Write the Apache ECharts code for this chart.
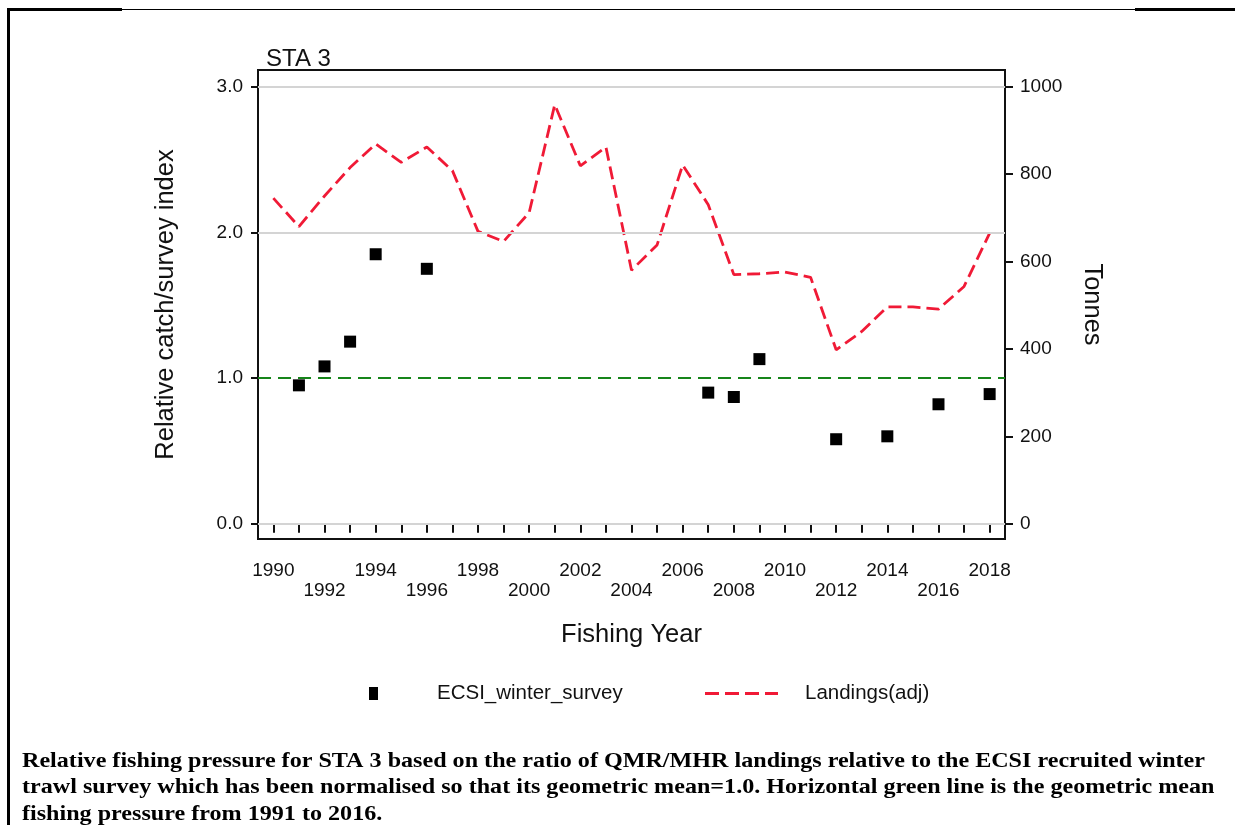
<!DOCTYPE html>
<html>
<head>
<meta charset="utf-8">
<script src="https://cdn.jsdelivr.net/npm/echarts@6/dist/echarts.min.js"></script>
<style>
  html, body { margin: 0; padding: 0; background: #fff; }
  #main { width: 1235px; height: 825px; }
</style>
</head>
<body>
<div id="main"></div>
<script>
// survey index points (left axis)
const surveyYears = [1991, 1992, 1993, 1994, 1996, 2007, 2008, 2009, 2012, 2014, 2016, 2018];
const surveyIndex = [0.95, 1.08, 1.25, 1.85, 1.75, 0.90, 0.87, 1.13, 0.58, 0.60, 0.82, 0.89];

// landings in tonnes (right axis)
const landingYears = [1990, 1991, 1992, 1993, 1994, 1995, 1996, 1997, 1998, 1999,
  2000, 2001, 2002, 2003, 2004, 2005, 2006, 2007, 2008, 2009,
  2010, 2011, 2012, 2013, 2014, 2015, 2016, 2017, 2018];
const landings = [745, 680, 750, 815, 869, 827, 862, 808, 669, 646,
  712, 959, 819, 862, 580, 638, 821, 730, 570, 572,
  576, 564, 398, 440, 496, 496, 491, 543, 665];

const geoMean = 1.0;
const yearTicks = landingYears;
const yearLabels = [1990, 1992, 1994, 1996, 1998, 2000, 2002, 2004, 2006, 2008, 2010, 2012, 2014, 2016, 2018];
const leftTicks = [0, 1, 2, 3];
const leftGrid = [0, 2, 3];
const rightTicks = [0, 200, 400, 600, 800, 1000];

const captionLines = [
  "Relative fishing pressure for STA 3 based on the ratio of QMR/MHR landings relative to the ECSI recruited winter",
  "trawl survey which has been normalised so that its geometric mean=1.0. Horizontal green line is the geometric mean",
  "fishing pressure from 1991 to 2016."
];

const sans = "'Liberation Sans', Arial, sans-serif";
const red = "#f01a36";

const options = {
  animation: false,
  backgroundColor: "#fff",
  title: {
    text: "STA 3",
    left: 261,
    top: 42,
    textStyle: { fontFamily: sans, fontSize: 24, fontWeight: "normal", color: "#111" }
  },
  grid: {
    left: 258, right: 230, top: 70, bottom: 286,
    show: true, borderColor: "#111", borderWidth: 2
  },
  legend: [
    {
      data: ["ECSI_winter_survey"],
      left: 364, top: 678,
      icon: "rect", itemWidth: 9, itemHeight: 13,
      itemStyle: { color: "#000", opacity: 1 },
      formatter: "{g| }{name}",
      textStyle: {
        fontFamily: sans, fontSize: 20.5, color: "#111",
        rich: { g: { width: 54 } }
      }
    },
    {
      data: ["Landings(adj)"],
      left: 700, top: 678,
      icon: "path://M0,0h14v3h-14z M20,0h14v3h-14z M40,0h14v3h-14z M60,0h13v3h-13z",
      itemWidth: 73, itemHeight: 3,
      itemStyle: { color: red, opacity: 1 },
      formatter: "{g| }{name}",
      textStyle: {
        fontFamily: sans, fontSize: 20.5, color: "#111",
        rich: { g: { width: 22 } }
      }
    }
  ],
  xAxis: {
    type: "value",
    min: 1989.4, max: 2018.6,
    name: "Fishing Year",
    nameLocation: "middle",
    nameGap: 83,
    nameTextStyle: { fontFamily: sans, fontSize: 25.5, color: "#111" },
    axisLine: { show: true, lineStyle: { color: "#111", width: 2 } },
    axisTick: { show: true, length: 9, customValues: yearTicks, lineStyle: { color: "#111", width: 2 } },
    axisLabel: {
      customValues: yearLabels,
      margin: 22,
      lineHeight: 20,
      fontFamily: sans, fontSize: 19, color: "#111",
      formatter: (v) => ((v - 1990) % 4 === 0 ? String(v) : "\n" + v)
    },
    splitLine: { show: false }
  },
  yAxis: [
    {
      type: "value",
      min: -0.105, max: 3.115,
      name: "Relative catch/survey index",
      nameLocation: "middle",
      nameGap: 79,
      nameTextStyle: { fontFamily: sans, fontSize: 25.5, color: "#111" },
      axisLine: { show: true, lineStyle: { color: "#111", width: 2 } },
      axisTick: { show: true, length: 7, customValues: leftTicks, lineStyle: { color: "#111", width: 2 } },
      axisLabel: {
        customValues: leftTicks,
        margin: 15,
        fontFamily: sans, fontSize: 19, color: "#111",
        formatter: (v) => v.toFixed(1)
      },
      splitLine: { show: false }
    },
    {
      type: "value",
      min: -35, max: 1038.3,
      position: "right",
      name: "Tonnes",
      nameLocation: "middle",
      nameRotate: -90,
      nameGap: 74,
      nameTextStyle: { fontFamily: sans, fontSize: 25.5, color: "#111" },
      axisLine: { show: true, lineStyle: { color: "#111", width: 2 } },
      axisTick: { show: true, length: 8, customValues: rightTicks, lineStyle: { color: "#111", width: 2 } },
      axisLabel: {
        customValues: rightTicks,
        margin: 15,
        fontFamily: sans, fontSize: 19, color: "#111",
        formatter: (v) => String(v)
      },
      splitLine: { show: false }
    }
  ],
  series: [
    {
      name: "ECSI_winter_survey",
      type: "scatter",
      yAxisIndex: 0,
      symbol: "rect",
      symbolSize: 12,
      itemStyle: { color: "#000", opacity: 1 },
      data: surveyYears.map((y, i) => [y, surveyIndex[i]]),
      z: 5,
      markLine: {
        silent: true,
        symbol: "none",
        label: { show: false },
        data: leftGrid.map((v) => ({ yAxis: v, lineStyle: { color: "#d4d4d4", width: 2, type: "solid" } }))
          .concat([{ yAxis: geoMean, lineStyle: { color: "#17851a", width: 2, type: [13, 7] } }])
      }
    },
    {
      name: "Landings(adj)",
      type: "line",
      yAxisIndex: 1,
      symbol: "none",
      lineStyle: { color: red, width: 2.8, type: [13, 6] },
      itemStyle: { color: red },
      data: landingYears.map((y, i) => [y, landings[i]]),
      z: 4
    }
  ],
  graphic: [
    { type: "rect", shape: { x: 7, y: 8, width: 115, height: 3 }, style: { fill: "#000" } },
    { type: "rect", shape: { x: 122, y: 9, width: 1013, height: 1 }, style: { fill: "#000" } },
    { type: "rect", shape: { x: 1135, y: 8, width: 100, height: 3 }, style: { fill: "#000" } },
    { type: "rect", shape: { x: 7, y: 8, width: 3, height: 817 }, style: { fill: "#000" } },
    {
      type: "text",
      x: 22, y: 748,
      scaleX: 1.148,
      style: {
        text: captionLines.join("\n"),
        font: "bold 21px 'Liberation Serif', 'Times New Roman', serif",
        lineHeight: 26.5,
        fill: "#000"
      }
    }
  ]
};

var myChart = echarts.init(document.querySelector("#main"));
myChart.setOption(options);
</script>
</body>
</html>
